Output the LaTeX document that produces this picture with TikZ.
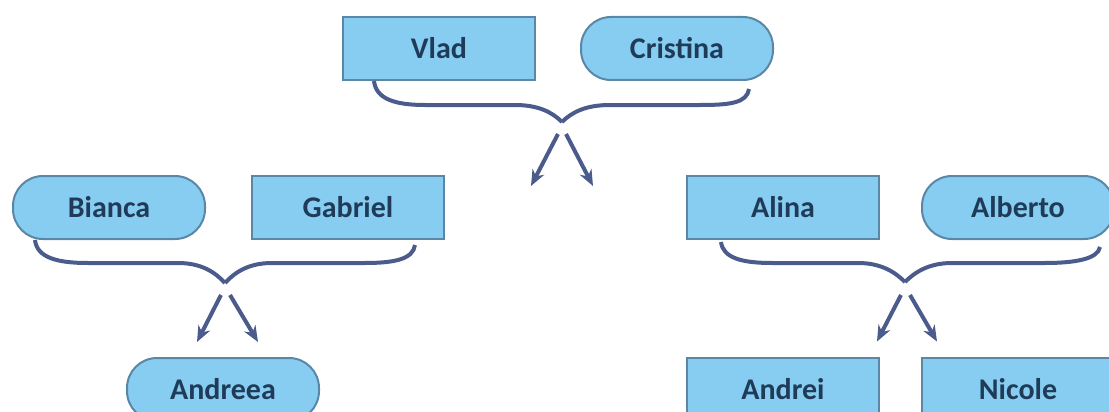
\documentclass[tikz,border=0pt]{standalone}
\usepackage{fontspec}
\setmainfont{Carlito}
\usetikzlibrary{arrows.meta}
\definecolor{boxfill}{HTML}{86CDF1}
\definecolor{boxline}{HTML}{5B87A6}
\definecolor{boxtext}{HTML}{1F3B57}
\definecolor{bracecol}{HTML}{4A5B8C}
\begin{document}
\begin{tikzpicture}
		[	x=1pt,y=-1pt,
		man/.style={rectangle,draw=boxline,line width=2pt,fill=boxfill,text=boxtext,minimum width=192pt,minimum height=63pt,font=\fontsize{30}{34}\selectfont\bfseries},
		woman/.style={man,rounded corners=30pt},
		brace/.style={draw=bracecol,line width=4pt},
		child/.style={draw=bracecol,line width=4pt,-{Stealth[length=16pt,width=13pt]}}
		]
		\useasboundingbox (0,0) rectangle (1109,412);
		\node[man] (vlad) at (439,48.5){Vlad};
		\node[woman] (cristina) at (677,48.5){Cristina};
		\node[woman] (bianca) at (109,207.5){Bianca};
		\node[man] (gabriel) at (348,207.5){Gabriel};
		\node[man] (alina) at (783,207.5){Alina};
		\node[woman] (alberto) at (1018,207.5){Alberto};
		\node[woman] (andreea) at (223,389.5){Andreea};
		\node[man] (andrei) at (783,389){Andrei};
		\node[man] (nicole) at (1018,389){Nicole};

% top couple
\coordinate (top) at (562,122);
\coordinate (topL) at (531,186);
\coordinate (topR) at (593,186);
\draw[brace] ([xshift=32pt]vlad.south west) .. controls +(2,18) and (395,105) .. (425,105) -- (515,105) .. controls (538,105) and (552,112) .. (top);
\draw[brace] ([xshift=-25pt,yshift=-8pt]cristina.south east) .. controls +(-2,14) and (730,105) .. (700,105) -- (610,105) .. controls (586,105) and (572,112) .. (top);
\draw[child] (558,134) -- (topL);
\draw[child] (566,134) -- (topR);

% left couple
\coordinate (left) at (225,283);
\draw[brace] ([xshift=23pt]bianca.south west) .. controls +(2,18) and (58,263) .. (88,263) -- (178,263) .. controls (201,263) and (215,272) .. (left);
\draw[brace] ([xshift=-30pt,yshift=-5pt]gabriel.south east) .. controls +(-2,14) and (395,263) .. (365,263) -- (272,263) .. controls (249,263) and (235,272) .. (left);
\draw[child] (221,295) -- ([xshift=-26pt,yshift=15pt]andreea.north);
\draw[child] (230,295) -- ([xshift=35pt,yshift=15pt]andreea.north);

% right couple
\coordinate (right) at (905,282);
\draw[brace] ([xshift=35pt,yshift=-2pt]alina.south west) .. controls +(2,16) and (742,263) .. (772,263) -- (858,263) .. controls (881,263) and (895,272) .. (right);
\draw[brace] ([xshift=-15pt,yshift=-7pt]alberto.south east) .. controls +(-2,12) and (1075,263) .. (1045,263) -- (952,263) .. controls (929,263) and (915,272) .. (right);
\draw[child] (901,295) -- ([xshift=94pt,yshift=15pt]andrei.north);
\draw[child] (910,295) -- ([xshift=-81pt,yshift=15pt]nicole.north);
	\end{tikzpicture}
\end{document}
